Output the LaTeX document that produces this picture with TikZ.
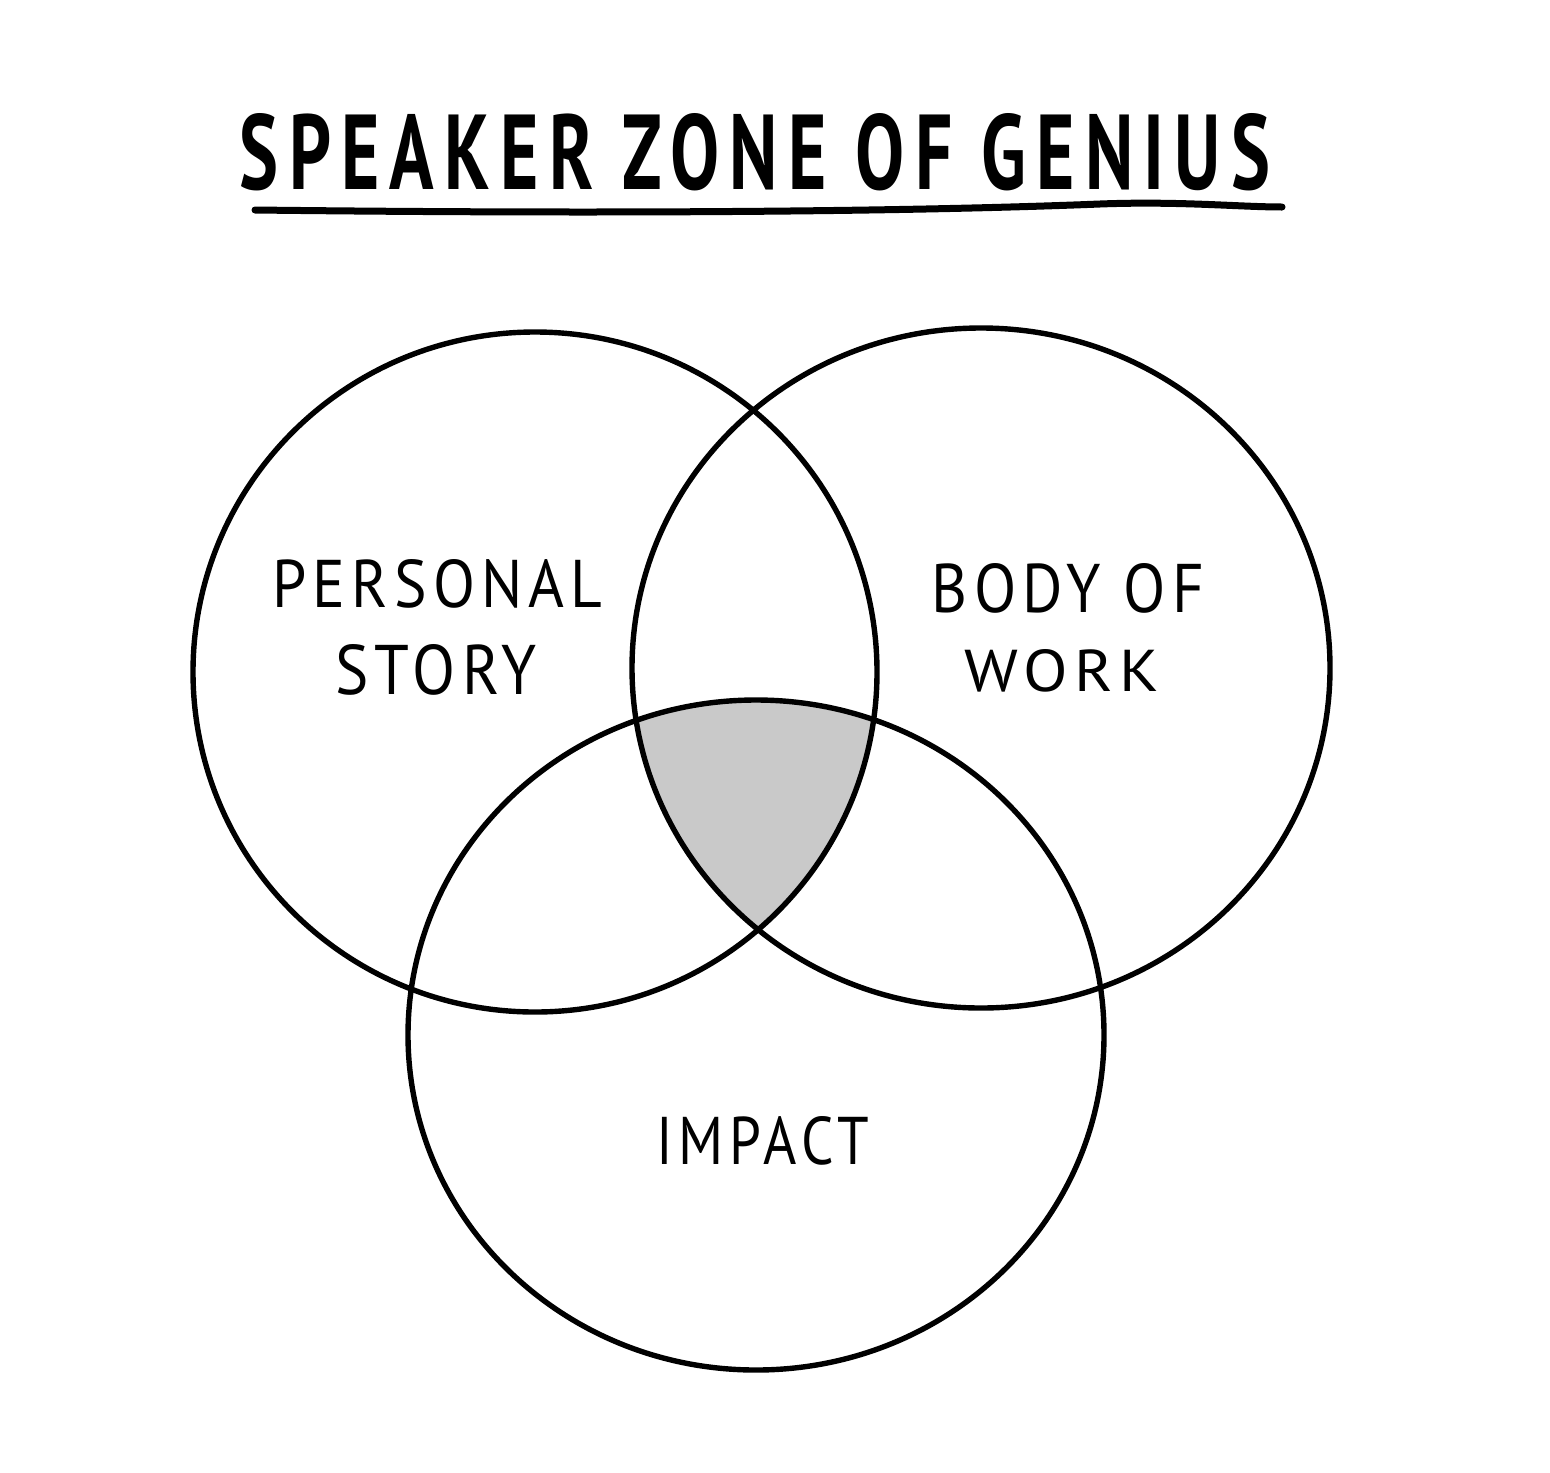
\documentclass[tikz,border=0pt]{standalone}
\usepackage{fontspec}
\usepackage{graphicx}
\setmainfont{PT Sans}
\newfontfamily\titlefont[LetterSpace=14]{PT Sans}
\newfontfamily\labelfont[LetterSpace=10]{PT Sans}
\definecolor{venngray}{RGB}{201,201,201}
\tikzset{
  ring/.style={draw=black, line width=2.7pt},
  lbl/.style={inner sep=0pt, anchor=center, text=black},
}
\begin{document}
\begin{tikzpicture}[x=0.5pt, y=-0.5pt]
  \useasboundingbox[fill=white] (0,0) rectangle (1550,1472);
  % shaded centre
  \begin{scope}
    \clip (535,672) ellipse [x radius=342, y radius=340];
    \clip (981,668) ellipse [x radius=349, y radius=340];
    \fill[venngray] (756,1035) ellipse [x radius=348, y radius=335];
  \end{scope}
  % circles
  \draw[ring] (535,672) ellipse [x radius=342, y radius=340];
  \draw[ring] (981,668) ellipse [x radius=349, y radius=340];
  \draw[ring] (756,1035) ellipse [x radius=348, y radius=335];
  % title
  \node[lbl] (title) at (755,152) {\resizebox{515pt}{38pt}{\titlefont\bfseries SPEAKER ZONE OF GENIUS}};
  \draw[line width=3.5pt, line cap=round] (255,210) .. controls (600,214) and (900,212) .. (1100,204) .. controls (1180,201) and (1240,207) .. (1282,207);
  % labels
  \node[lbl] (personal) at (437.5,584) {\resizebox{165pt}{24pt}{\labelfont PERSONAL}};
  \node[lbl] (story) at (436,670) {\resizebox{101pt}{25pt}{\labelfont STORY}};
  \node[lbl] (body) at (1068,588) {\resizebox{136pt}{24.5pt}{\labelfont BODY OF}};
  \node[lbl] (work) at (1062,671) {\resizebox{97.5pt}{21pt}{\labelfont WORK}};
  \node[lbl] (impact) at (763,1141) {\resizebox{106.5pt}{24pt}{\labelfont IMPACT}};
\end{tikzpicture}
\end{document}
